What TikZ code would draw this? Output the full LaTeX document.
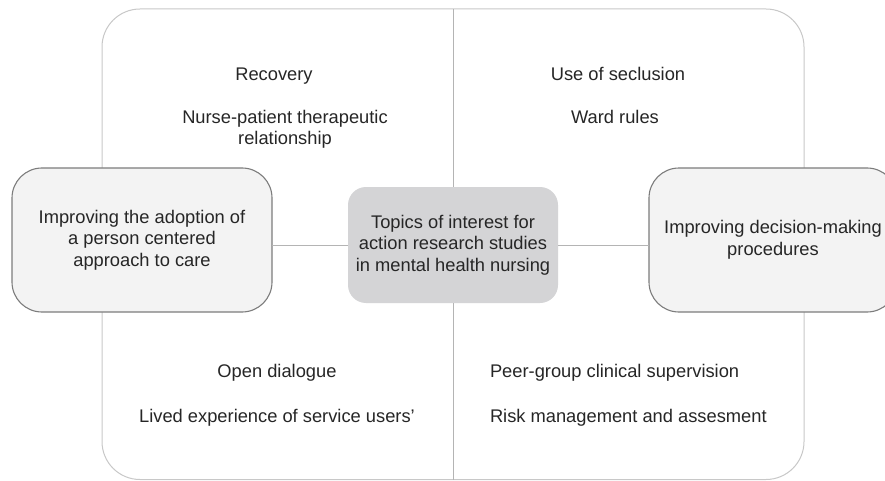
\documentclass[tikz,border=0pt]{standalone}
\usepackage{fontspec}
\setmainfont{Liberation Sans}
\definecolor{outerc}{HTML}{C8C8C8}
\definecolor{connc}{HTML}{B4B4B4}
\definecolor{boxc}{HTML}{7C7C7C}
\definecolor{sidefill}{HTML}{F3F3F3}
\definecolor{centerfill}{HTML}{D4D4D6}
\definecolor{txt}{HTML}{262626}
\tikzset{
  every node/.style={font=\fontsize{18.3}{21.5}\selectfont, text=txt, inner sep=0pt, outer sep=0pt},
  outerbox/.style={draw=outerc, line width=1pt, rounded corners=38pt, fill=white},
  sidebox/.style={draw=boxc, line width=1.1pt, rounded corners=30pt, fill=sidefill, align=center},
  centerbox/.style={fill=centerfill, rounded corners=18pt, align=center},
  conn/.style={draw=connc, line width=0.9pt},
  topic/.style={anchor=base, align=center}
}
\begin{document}
\begin{tikzpicture}[x=1pt,y=-1pt]
\useasboundingbox (0,0) rectangle (885,481);
\clip (0,0) rectangle (885,481);
\node[outerbox, minimum width=702pt, minimum height=470.5pt] (outer) at (453,244.25) {};
\node[centerbox, minimum width=210pt, minimum height=116pt] (center) at (453,245) {Topics of interest for\\action research studies\\in mental health nursing};
\node[sidebox, minimum width=260pt, minimum height=144pt] (left) at (142,240) {Improving the adoption of\\a person centered\\approach to care};
\node[sidebox, minimum width=248pt, minimum height=144pt] (right) at (773,240) {Improving decision-making\\procedures};
\draw[conn] (outer.north) -- (center.north);
\draw[conn] (center.south) -- (outer.south);
\draw[conn] (center.west) -- (center.west -| left.east);
\draw[conn] (center.east) -- (center.east -| right.west);
\node[topic] (recovery) at (274,81) {Recovery};
\node[align=center] (nurse) at (285,129.5) {Nurse-patient therapeutic\\relationship};
\node[topic] (seclusion) at (618,81) {Use of seclusion};
\node[topic] (ward) at (615,124) {Ward rules};
\node[topic] (open) at (277,377) {Open dialogue};
\node[topic] (lived) at (277,422) {Lived experience of service users’};
\node[anchor=base west] (peer) at (490,377) {Peer-group clinical supervision};
\node[anchor=base west] (risk) at (490,422) {Risk management and assesment};
\end{tikzpicture}
\end{document}
